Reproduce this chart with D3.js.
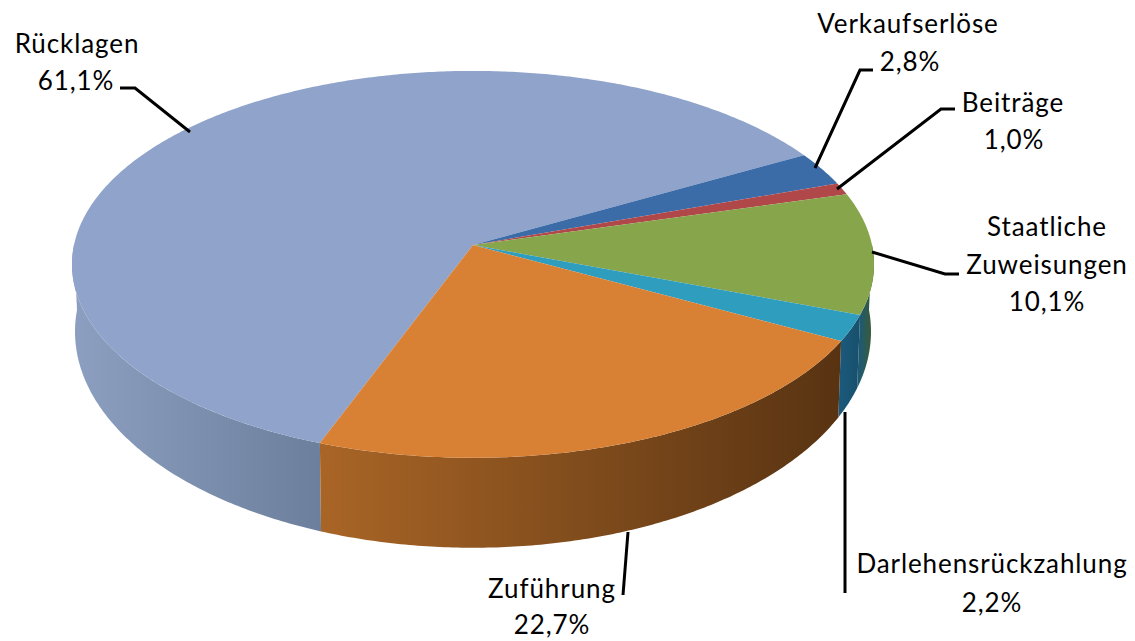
<!DOCTYPE html>
<html>
<head>
<meta charset="utf-8">
<script src="https://cdn.jsdelivr.net/npm/d3@7"></script>
<style>
  html, body { margin: 0; padding: 0; background: #fff; }
  text { font-family: Lato, "Open Sans", sans-serif; font-size: 26px; letter-spacing: 0.9px; fill: #000; }
</style>
</head>
<body>
<div class="pie3d"></div>
<script>
var categories = ["Rücklagen", "Verkaufserlöse", "Beiträge", "Staatliche Zuweisungen", "Darlehensrückzahlung", "Zuführung"];
var shares = [61.1, 2.8, 1.0, 10.1, 2.2, 22.7];
var shareLabels = ["61,1%", "2,8%", "1,0%", "10,1%", "2,2%", "22,7%"];

var topColors = ["#8fa3cb", "#3c6ca8", "#b0484a", "#87a54b", "#2f9dbd", "#d88135"];
var sideLeftColors = ["#8c9fc0", "#35608f", "#8a3a3a", "#1f5a72", "#1b587a", "#a96526"];
var sideRightColors = ["#6c7f9c", "#2a4d73", "#6d2d2d", "#3b5a35", "#17506c", "#583312"];

var svgWidth = 1135;
var svgHeight = 641;

var svg = d3.select(".pie3d")
  .append("svg")
  .attr("width", svgWidth)
  .attr("height", svgHeight)
  .style("display", "block");

var defs = svg.append("defs");

// Tilted disc: the same circle projected with some perspective, top and bottom ring
var perspective = 0.1;
var topRing = { cx: 473, cy: 245, rx: 399, ry: 191.5 };
var bottomRing = { cx: 473, cy: 310, rx: 396, ry: 214 };

function project(ring, angle) {
  var u = Math.sin(angle);
  var v = -Math.cos(angle);
  var d = 1 - perspective * v;
  return [ring.cx + ring.rx * u / d, ring.cy + ring.ry * v / d];
}

function sampleRing(ring, a0, a1) {
  var n = Math.max(2, Math.ceil(Math.abs(a1 - a0) / 0.01));
  return d3.range(n + 1).map(function(i) {
    return project(ring, a0 + (a1 - a0) * i / n);
  });
}

var line = d3.line();

var startAngle = 200.35 * Math.PI / 180;
var pie = d3.pie()
  .sort(null)
  .startAngle(startAngle)
  .endAngle(startAngle + 2 * Math.PI);

var slices = pie(shares);

// The rim is only seen on the front half of the disc
var rimFrom = Math.PI / 2;
var rimTo = 3 * Math.PI / 2;

slices.forEach(function(s, i) {
  // Pull every slice into the same turn as the rim
  [-2 * Math.PI, 0].forEach(function(turn) {
    var a0 = Math.max(s.startAngle + turn, rimFrom);
    var a1 = Math.min(s.endAngle + turn, rimTo);
    if (a1 <= a0) return;

    var x0 = project(topRing, a0)[0];
    var x1 = project(topRing, a1)[0];
    var leftX = Math.min(x0, x1);
    var rightX = Math.max(x0, x1);

    var grad = defs.append("linearGradient")
      .attr("id", "rim" + i + (turn ? "b" : "a"))
      .attr("gradientUnits", "userSpaceOnUse")
      .attr("x1", leftX).attr("x2", rightX)
      .attr("y1", 0).attr("y2", 0);
    grad.append("stop").attr("offset", 0).attr("stop-color", sideLeftColors[i]);
    grad.append("stop").attr("offset", 1).attr("stop-color", sideRightColors[i]);

    var pts = sampleRing(topRing, a0, a1).concat(sampleRing(bottomRing, a1, a0));
    svg.append("path")
      .attr("d", line(pts) + "Z")
      .attr("fill", "url(#rim" + i + (turn ? "b" : "a") + ")");
  });
});

// Top face
slices.forEach(function(s, i) {
  var pts = [[topRing.cx, topRing.cy]].concat(sampleRing(topRing, s.startAngle, s.endAngle));
  svg.append("path")
    .attr("d", line(pts) + "Z")
    .attr("fill", topColors[i]);
});

// Leader lines
var leaders = [
  [[120, 88], [135, 88], [190, 132]],
  [[873, 70], [860, 70], [815, 168]],
  [[955, 109], [941, 109], [837, 189]],
  [[872, 252], [945, 274], [959, 274]],
  [[845, 412], [845, 593]],
  [[628, 532], [623, 595]]
];

svg.selectAll(".leader")
  .data(leaders)
  .enter()
  .append("path")
  .attr("class", "leader")
  .attr("d", d => line(d))
  .attr("fill", "none")
  .attr("stroke", "#000")
  .attr("stroke-width", 3);

// Labels
var labelLines = [
  [categories[0], 77, 53], [shareLabels[0], 76, 90],
  [categories[1], 908, 33], [shareLabels[1], 910, 71],
  [categories[2], 1013, 112], [shareLabels[2], 1014, 149],
  ["Staatliche", 1047, 236], ["Zuweisungen", 1047, 274], [shareLabels[3], 1047, 311],
  [categories[4], 992, 573], [shareLabels[4], 992, 612],
  [categories[5], 552, 598], [shareLabels[5], 552, 634]
];

svg.selectAll(".label")
  .data(labelLines)
  .enter()
  .append("text")
  .attr("class", "label")
  .attr("x", d => d[1])
  .attr("y", d => d[2])
  .style("text-anchor", "middle")
  .text(d => d[0]);
</script>
</body>
</html>
